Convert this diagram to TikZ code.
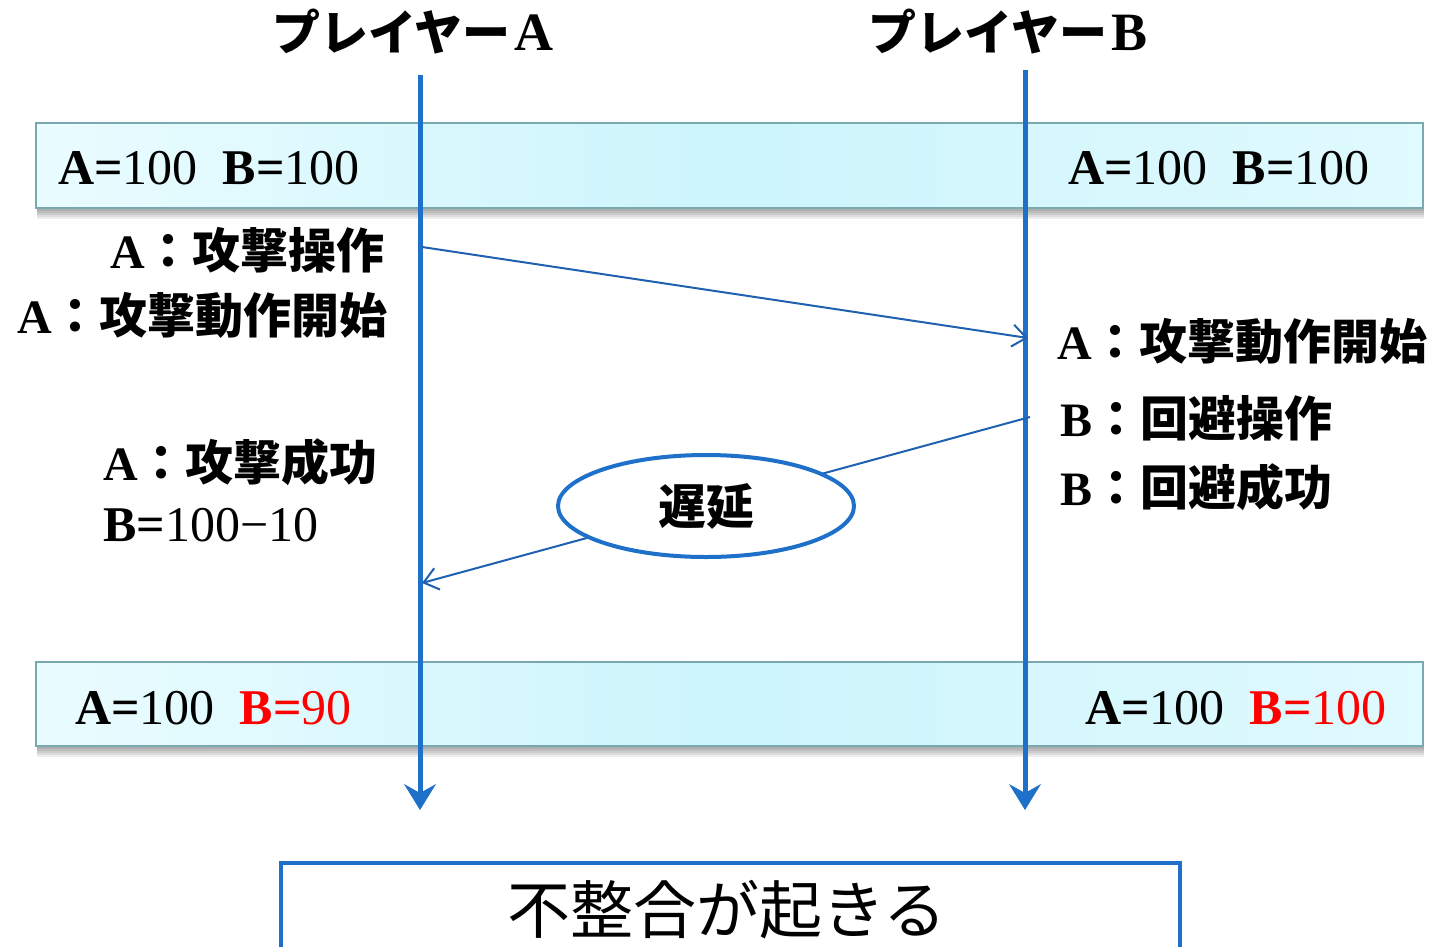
\documentclass[tikz,border=0pt]{standalone}
\usepackage{fontspec}
\setmainfont{Liberation Serif}
\newfontfamily\jp{Noto Sans CJK JP}
\usetikzlibrary{arrows.meta,shapes.geometric}
\definecolor{lifeblue}{RGB}{30,112,200}
\definecolor{msgblue}{RGB}{32,96,176}
\definecolor{bandedge}{RGB}{122,168,176}
\definecolor{bandL}{RGB}{234,252,255}
\definecolor{bandM}{RGB}{204,245,252}
\definecolor{bandR}{RGB}{224,250,254}
\definecolor{txtred}{RGB}{255,0,0}
\begin{document}
\begin{tikzpicture}[x=1pt,y=-1pt,
  life/.style={line width=5pt, draw=lifeblue, -{Stealth[length=26pt,width=32pt,inset=9pt,line width=1pt]}},
  msg/.style={line width=2pt, draw=msgblue, -{Straight Barb[length=14pt,width=22pt]}},
  band/.style={draw=bandedge, line width=1.5pt, left color=bandL, right color=bandR, middle color=bandM, minimum width=1387pt, minimum height=85pt, anchor=north west, inner sep=0pt},
  bandshadow/.style={fill=black, opacity=0.07},
  big/.style={font=\fontsize{50}{60}\selectfont, inner sep=0pt},
  jtxt/.style={font=\fontsize{48}{58}\selectfont, inner sep=0pt},
  title/.style={font=\fontsize{48}{58}\selectfont, inner sep=0pt},
  frame/.style={draw=lifeblue, line width=4pt, fill=white, inner sep=0pt},
]
\clip (0,0) rectangle (1436,946);
\fill[white] (0,0) rectangle (1436,946);

% shadows of bands
\foreach \d in {2,4,6,8,10,12}{
  \fill[bandshadow] (37,124+\d) rectangle (1424,207+\d);
  \fill[bandshadow] (37,663+\d) rectangle (1424,745+\d);
}
\node[band] (band1) at (35,122) {};
\node[band, minimum height=84pt] (band2) at (35,661) {};

% titles
\node[title] (titleA) at (413,32) {{\jp\bfseries プレイヤー}\hspace{0.08em}{\fontsize{54}{60}\selectfont\textbf{A}}};
\node[title] (titleB) at (1008,32) {{\jp\bfseries プレイヤー}\hspace{0.08em}{\fontsize{54}{60}\selectfont\textbf{B}}};

% lifelines
\coordinate (Atop) at (420,75);
\coordinate (Abot) at (420,810);
\coordinate (Btop) at (1025,70);
\coordinate (Bbot) at (1025,810);
\draw[life] (Atop) -- (Abot);
\draw[life] (Btop) -- (Bbot);

% band texts
\node[big,anchor=west] (s1A) at (58,168) {\textbf{A=}100\hspace{0.5em}\textbf{B=}100};
\node[big,anchor=west] (s1B) at (1068,168) {\textbf{A=}100\hspace{0.5em}\textbf{B=}100};
\node[big,anchor=west] (s2A) at (75,708) {\textbf{A=}100\hspace{0.5em}\textcolor{txtred}{\textbf{B=}90}};
\node[big,anchor=west] (s2B) at (1085,708) {\textbf{A=}100\hspace{0.5em}\textcolor{txtred}{\textbf{B=}100}};

% event texts
\node[jtxt,anchor=east] (opA) at (385,250) {\textbf{A}{\jp\bfseries ：攻撃操作}};
\node[jtxt,anchor=east] (startA) at (388,315) {\textbf{A}{\jp\bfseries ：攻撃動作開始}};
\node[jtxt,anchor=west] (startB) at (1057,341) {\textbf{A}{\jp\bfseries ：攻撃動作開始}};
\node[jtxt,anchor=west] (dodgeOp) at (1060,418) {\textbf{B}{\jp\bfseries ：回避操作}};
\node[jtxt,anchor=west] (dodgeOk) at (1060,487) {\textbf{B}{\jp\bfseries ：回避成功}};
\node[jtxt,anchor=west] (hitA) at (103,462) {\textbf{A}{\jp\bfseries ：攻撃成功}};
\node[big,anchor=west] (calc) at (103,525) {\textbf{B=}100−10};

% messages
\coordinate (a1) at (422,247);
\coordinate (b1) at (1028,338);
\coordinate (b2) at (1030,417);
\coordinate (a2) at (422,583);
\draw[msg] (a1) -- (b1);
\draw[msg] (b2) -- (a2);

% delay ellipse
\node[ellipse, frame, minimum width=296pt, minimum height=102pt, font=\fontsize{48}{58}\selectfont] (delay) at (706,506) {\jp\bfseries 遅延};

% result box
\node[frame, minimum width=899pt, minimum height=120pt, anchor=north west] (result) at (279,861) {};
\node[inner sep=0pt, font=\fontsize{63}{70}\selectfont] (resulttxt) at (727,910) {\jp 不整合が起きる};
\end{tikzpicture}
\end{document}
